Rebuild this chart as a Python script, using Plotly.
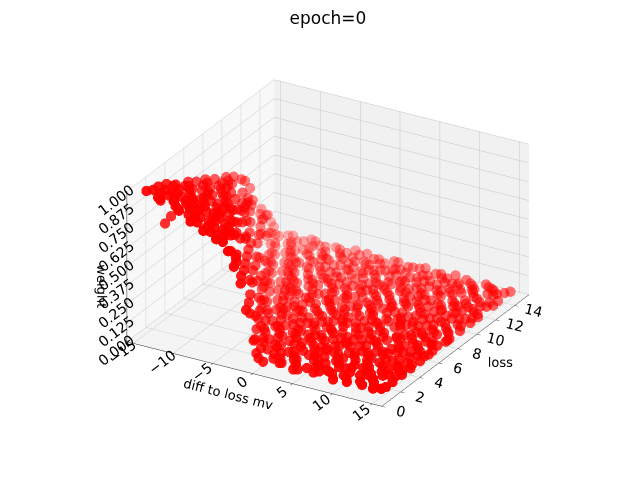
import plotly.graph_objects as go

# ---- values ----------------------------------------------------------
# weight ~ 0: the flat sheet lying on the floor of the box
diff_flat = [
    -1.1, 0.2, 1.4, 2.3, 3.6, 4.4, 5.8, 6.9, 7.7, 9.0, 10.1, 11.2, 12.4, 13.3, 14.7,
    -2.6, -1.5, -0.3, 0.8, 2.0, 3.1, 4.3, 5.2, 6.5, 7.6, 8.8, 9.7, 11.0, 12.1, 13.2, 14.5,
    -3.7, -2.5, -1.4, -0.2, 0.9, 2.1, 3.0, 4.2, 5.4, 6.3, 7.5, 8.7, 9.8, 10.9, 12.0, 13.1, 14.4,
    -4.8, -3.6, -2.3, -1.2, 0.0, 1.1, 2.2, 3.4, 4.5, 5.6, 6.6, 7.8, 8.9, 10.0, 11.1, 12.3, 13.4, 14.6,
    -5.7, -4.5, -3.4, -2.2, -1.1, 0.1, 1.2, 2.4, 3.3, 4.6, 5.7, 6.8, 7.9, 9.0, 10.2, 11.3, 12.4, 13.5, 14.7,
    -6.8, -5.6, -4.4, -3.3, -2.1, -1.0, 0.2, 1.3, 2.5, 3.6, 4.7, 5.9, 7.0, 8.1, 9.2, 10.4, 11.5, 12.6, 13.7, 14.8,
    -7.8, -6.7, -5.5, -4.4, -3.2, -2.1, -1.0, 0.1, 1.3, 2.4, 3.5, 4.7, 5.8, 6.9, 8.0, 9.1, 10.3, 11.4, 12.5, 13.6, 14.8,
    -8.9, -7.7, -6.6, -5.5, -4.3, -3.2, -2.0, -0.9, 0.2, 1.4, 2.5, 3.6, 4.8, 5.9, 7.0, 8.1, 9.3, 10.4, 11.5, 12.6, 13.8, 14.9,
    -9.8, -8.7, -7.5, -6.4, -5.3, -4.1, -3.0, -1.9, -0.7, 0.4, 1.5, 2.7, 3.8, 4.9, 6.0, 7.2, 8.3, 9.4, 10.5, 11.7, 12.8, 13.9, 14.9,
    -10.9, -9.8, -8.6, -7.5, -6.4, -5.2, -4.1, -3.0, -1.8, -0.7, 0.4, 1.6, 2.7, 3.8, 5.0, 6.1, 7.2, 8.3, 9.5, 10.6, 11.7, 12.8, 13.9, 14.9,
    -11.8, -10.7, -9.6, -8.5, -7.4, -6.2, -5.1, -4.0, -2.9, -1.8, -0.6, 0.5, 1.6, 2.7, 3.9, 5.0, 6.1, 7.2, 8.4, 9.5, 10.6, 11.7, 12.8, 13.9, 14.9,
    -12.9, -11.8, -10.7, -9.6, -8.5, -7.4, -6.3, -5.1, -4.0, -2.9, -1.8, -0.7, 0.4, 1.5, 2.7, 3.8, 4.9, 6.0, 7.1, 8.3, 9.4, 10.5, 11.6, 12.7, 13.8, 14.9,
    -13.9, -12.8, -11.7, -10.6, -9.5, -8.4, -7.3, -6.2, -5.1, -4.0, -2.9, -1.8, -0.7, 0.4, 1.5, 2.6, 3.7, 4.8, 5.9, 7.0, 8.1, 9.2, 10.3, 11.4, 12.5, 13.6, 14.8,
    -14.8, -13.7, -12.6, -11.5, -10.4, -9.3, -8.2, -7.1, -6.0, -4.9, -3.8, -2.7, -1.6, -0.5, 0.6, 1.7, 2.8, 3.9, 5.0, 6.1, 7.2, 8.3, 9.4, 10.5, 11.6, 12.7, 13.8, 14.8,
]
loss_flat = [
    1.3, 0.9, 1.7, 1.1, 1.5, 1.0, 1.8, 1.2, 1.6, 0.9, 1.4, 1.9, 1.1, 1.6, 1.2,
    2.4, 2.1, 2.8, 2.3, 2.6, 2.0, 2.9, 2.5, 2.2, 2.7, 2.4, 2.1, 2.8, 2.3, 2.6, 2.9,
    3.5, 3.2, 3.8, 3.1, 3.6, 3.3, 3.9, 3.4, 3.0, 3.7, 3.2, 3.5, 3.8, 3.1, 3.6, 3.3, 3.7,
    4.6, 4.2, 4.8, 4.1, 4.5, 4.9, 4.3, 4.7, 4.0, 4.4, 4.8, 4.2, 4.6, 4.1, 4.9, 4.4, 4.0, 4.5,
    5.5, 5.1, 5.8, 5.3, 5.9, 5.0, 5.6, 5.2, 5.7, 5.4, 5.0, 5.8, 5.3, 5.6, 5.1, 5.9, 5.4, 5.2, 5.7,
    6.6, 6.2, 6.9, 6.4, 6.0, 6.7, 6.3, 6.8, 6.1, 6.5, 6.9, 6.2, 6.6, 6.0, 6.4, 6.8, 6.3, 6.7, 6.1, 6.5,
    7.5, 7.1, 7.8, 7.3, 7.9, 7.0, 7.6, 7.2, 7.7, 7.4, 7.0, 7.8, 7.3, 7.6, 7.1, 7.9, 7.4, 7.2, 7.7, 7.5, 7.0,
    8.7, 8.2, 8.9, 8.4, 8.0, 8.6, 8.3, 8.8, 8.1, 8.5, 8.9, 8.2, 8.6, 8.0, 8.4, 8.8, 8.3, 8.7, 8.1, 8.5, 8.9, 8.2,
    9.6, 9.1, 9.8, 9.3, 9.0, 9.7, 9.4, 9.9, 9.2, 9.5, 9.0, 9.8, 9.3, 9.6, 9.1, 9.7, 9.4, 9.0, 9.8, 9.2, 9.5, 9.9, 9.3,
    10.7, 10.2, 10.9, 10.4, 10.0, 10.6, 10.3, 10.8, 10.1, 10.5, 10.9, 10.2, 10.7, 10.0, 10.4, 10.8, 10.3, 10.6, 10.1, 10.9, 10.5, 10.2, 10.7, 10.4,
    11.6, 11.1, 11.8, 11.3, 11.9, 11.0, 11.5, 11.2, 11.7, 11.4, 11.0, 11.8, 11.3, 11.6, 11.1, 11.9, 11.4, 11.2, 11.7, 11.5, 11.0, 11.8, 11.3, 11.6, 11.2,
    12.7, 12.2, 12.9, 12.4, 12.0, 12.6, 12.3, 12.8, 12.1, 12.5, 12.9, 12.2, 12.6, 12.0, 12.4, 12.8, 12.3, 12.7, 12.1, 12.5, 12.9, 12.2, 12.6, 12.0, 12.4, 12.8,
    13.6, 13.1, 13.8, 13.3, 13.9, 13.0, 13.5, 13.2, 13.7, 13.4, 13.0, 13.8, 13.3, 13.6, 13.1, 13.9, 13.4, 13.2, 13.7, 13.5, 13.0, 13.8, 13.3, 13.6, 13.1, 13.9, 13.4,
    14.6, 14.2, 14.8, 14.3, 14.9, 14.1, 14.5, 14.7, 14.2, 14.9, 14.4, 14.0, 14.6, 14.3, 14.8, 14.1, 14.5, 14.9, 14.2, 14.7, 14.4, 14.0, 14.6, 14.3, 14.8, 14.5, 14.1, 14.7,
]
weight_flat = [
    0.06, 0.04, 0.04, 0.05, 0.04, 0.04, 0.04, 0.05, 0.04, 0.04, 0.04, 0.05, 0.04, 0.04, 0.04,
    0.08, 0.05, 0.04, 0.04, 0.05, 0.04, 0.04, 0.04, 0.05, 0.04, 0.04, 0.04, 0.04, 0.05, 0.04, 0.04,
    0.08, 0.05, 0.04, 0.04, 0.04, 0.05, 0.04, 0.04, 0.04, 0.04, 0.05, 0.04, 0.04, 0.04, 0.04, 0.05, 0.04,
    0.08, 0.05, 0.04, 0.04, 0.05, 0.04, 0.04, 0.04, 0.04, 0.05, 0.04, 0.04, 0.04, 0.04, 0.05, 0.04, 0.04, 0.04,
    0.08, 0.05, 0.04, 0.04, 0.04, 0.05, 0.04, 0.04, 0.04, 0.04, 0.05, 0.04, 0.04, 0.04, 0.04, 0.04, 0.05, 0.04, 0.04,
    0.08, 0.05, 0.04, 0.04, 0.05, 0.04, 0.04, 0.04, 0.04, 0.05, 0.04, 0.04, 0.04, 0.04, 0.04, 0.05, 0.04, 0.04, 0.04, 0.04,
    0.10, 0.05, 0.04, 0.04, 0.04, 0.05, 0.04, 0.04, 0.04, 0.04, 0.05, 0.04, 0.04, 0.04, 0.04, 0.05, 0.04, 0.04, 0.04, 0.04, 0.05,
    0.08, 0.05, 0.04, 0.04, 0.04, 0.05, 0.04, 0.04, 0.04, 0.04, 0.05, 0.04, 0.04, 0.04, 0.04, 0.04, 0.05, 0.04, 0.04, 0.04, 0.04, 0.04,
    0.08, 0.05, 0.04, 0.04, 0.05, 0.04, 0.04, 0.04, 0.04, 0.05, 0.04, 0.04, 0.04, 0.04, 0.05, 0.04, 0.04, 0.04, 0.04, 0.04, 0.05, 0.04, 0.04,
    0.08, 0.05, 0.04, 0.04, 0.04, 0.05, 0.04, 0.04, 0.04, 0.04, 0.05, 0.04, 0.04, 0.04, 0.04, 0.04, 0.05, 0.04, 0.04, 0.04, 0.04, 0.05, 0.04, 0.04,
    0.08, 0.05, 0.04, 0.04, 0.04, 0.05, 0.04, 0.04, 0.04, 0.04, 0.05, 0.04, 0.04, 0.04, 0.04, 0.04, 0.05, 0.04, 0.04, 0.04, 0.04, 0.04, 0.05, 0.04, 0.04,
    0.08, 0.05, 0.04, 0.04, 0.05, 0.04, 0.04, 0.04, 0.04, 0.05, 0.04, 0.04, 0.04, 0.04, 0.04, 0.05, 0.04, 0.04, 0.04, 0.04, 0.05, 0.04, 0.04, 0.04, 0.04, 0.04,
    0.10, 0.05, 0.04, 0.04, 0.04, 0.05, 0.04, 0.04, 0.04, 0.04, 0.05, 0.04, 0.04, 0.04, 0.04, 0.04, 0.05, 0.04, 0.04, 0.04, 0.04, 0.05, 0.04, 0.04, 0.04, 0.04, 0.04,
    0.08, 0.05, 0.04, 0.04, 0.04, 0.05, 0.04, 0.04, 0.04, 0.04, 0.05, 0.04, 0.04, 0.04, 0.04, 0.04, 0.05, 0.04, 0.04, 0.04, 0.04, 0.04, 0.05, 0.04, 0.04, 0.04, 0.04, 0.04,
]
# second pass over the same sheet, filling the gaps between the first
diff_flat2 = [
    -0.5, 0.8, 1.9, 3.0, 4.0, 5.1, 6.3, 7.3, 8.4, 9.5, 10.6, 11.8, 12.9, 13.9, 14.9,
    -2.0, -0.9, 0.3, 1.4, 2.6, 3.7, 4.8, 5.9, 7.0, 8.2, 9.3, 10.4, 11.6, 12.7, 13.8, 14.9,
    -3.1, -2.0, -0.8, 0.3, 1.5, 2.6, 3.6, 4.8, 5.9, 6.9, 8.1, 9.2, 10.3, 11.5, 12.6, 13.7, 14.9,
    -4.2, -3.0, -1.8, -0.6, 0.6, 1.7, 2.8, 3.9, 5.0, 6.1, 7.2, 8.3, 9.5, 10.6, 11.7, 12.8, 13.9, 14.9,
    -5.1, -4.0, -2.8, -1.6, -0.5, 0.7, 1.8, 2.9, 4.0, 5.1, 6.2, 7.4, 8.5, 9.6, 10.7, 11.8, 12.9, 14.0, 14.9,
    -6.2, -5.0, -3.9, -2.7, -1.6, -0.4, 0.8, 1.9, 3.0, 4.1, 5.3, 6.4, 7.5, 8.6, 9.8, 10.9, 12.0, 13.1, 14.2, 14.9,
    -7.2, -6.1, -4.9, -3.8, -2.6, -1.5, -0.4, 0.7, 1.8, 2.9, 4.1, 5.2, 6.3, 7.4, 8.5, 9.7, 10.8, 11.9, 13.0, 14.1, 14.9,
    -8.3, -7.1, -6.0, -4.9, -3.7, -2.6, -1.4, -0.3, 0.8, 1.9, 3.1, 4.2, 5.3, 6.5, 7.6, 8.7, 9.8, 11.0, 12.1, 13.2, 14.3, 14.9,
    -9.2, -8.1, -6.9, -5.8, -4.7, -3.5, -2.4, -1.3, -0.1, 1.0, 2.1, 3.2, 4.4, 5.5, 6.6, 7.7, 8.9, 10.0, 11.1, 12.2, 13.3, 14.4,
    -10.3, -9.2, -8.0, -6.9, -5.8, -4.6, -3.5, -2.4, -1.2, -0.1, 1.0, 2.2, 3.3, 4.4, 5.5, 6.7, 7.8, 8.9, 10.1, 11.2, 12.3, 13.4, 14.5,
    -11.2, -10.1, -9.0, -7.9, -6.8, -5.7, -4.5, -3.4, -2.3, -1.2, 0.0, 1.1, 2.2, 3.3, 4.5, 5.6, 6.7, 7.8, 8.9, 10.1, 11.2, 12.3, 13.4, 14.5,
    -12.3, -11.2, -10.1, -9.0, -7.9, -6.8, -5.7, -4.6, -3.4, -2.3, -1.2, -0.1, 1.0, 2.1, 3.2, 4.3, 5.5, 6.6, 7.7, 8.8, 9.9, 11.0, 12.1, 13.2, 14.4,
    -13.2, -12.1, -11.0, -9.9, -8.8, -7.7, -6.6, -5.6, -4.5, -3.4, -2.3, -1.2, -0.1, 1.0, 2.1, 3.2, 4.3, 5.4, 6.5, 7.6, 8.7, 9.8, 10.9, 12.0, 13.1, 14.2,
    -14.2, -13.1, -12.0, -10.9, -9.8, -8.7, -7.6, -6.5, -5.4, -4.3, -3.2, -2.1, -1.0, 0.1, 1.2, 2.3, 3.4, 4.5, 5.6, 6.7, 7.8, 8.9, 10.0, 11.1, 12.2, 13.3, 14.4,
]
loss_flat2 = [
    1.0, 1.5, 1.2, 1.8, 0.9, 1.4, 1.1, 1.7, 1.3, 1.6, 1.0, 1.4, 1.8, 1.0, 1.5,
    2.8, 2.3, 2.0, 2.6, 2.2, 2.8, 2.4, 2.0, 2.9, 2.2, 2.6, 2.9, 2.3, 2.0, 2.7, 2.2,
    3.9, 3.4, 3.0, 3.6, 3.9, 3.1, 3.5, 3.8, 3.6, 3.2, 3.9, 3.0, 3.4, 3.7, 3.0, 3.8, 3.2,
    4.4, 4.9, 4.3, 4.7, 4.1, 4.6, 4.9, 4.0, 4.5, 4.8, 4.1, 4.6, 4.3, 4.8, 4.2, 4.7, 4.6, 4.1,
    5.9, 5.4, 5.0, 5.6, 5.2, 5.8, 5.0, 5.9, 5.1, 5.7, 5.4, 5.1, 5.9, 5.0, 5.6, 5.3, 5.8, 5.6, 5.1,
    6.1, 6.7, 6.3, 6.9, 6.5, 6.1, 6.6, 6.2, 6.9, 6.0, 6.4, 6.8, 6.1, 6.5, 6.9, 6.2, 6.8, 6.4, 6.9, 6.0,
    7.2, 7.7, 7.0, 7.5, 7.1, 7.8, 7.3, 7.9, 7.0, 7.6, 7.4, 7.0, 7.9, 7.2, 7.8, 7.0, 7.6, 7.9, 7.3, 7.0, 7.8,
    8.1, 8.6, 8.3, 8.9, 8.7, 8.2, 8.9, 8.4, 8.7, 8.0, 8.3, 8.8, 8.1, 8.6, 8.9, 8.2, 8.6, 8.0, 8.7, 8.3, 8.6, 8.0,
    9.2, 9.7, 9.4, 9.0, 9.8, 9.2, 9.6, 9.1, 9.7, 9.9, 9.3, 9.6, 9.0, 9.9, 9.4, 9.1, 9.7, 9.5, 9.0, 9.6, 9.2, 9.8,
    10.3, 10.8, 10.5, 10.1, 10.7, 10.2, 10.9, 10.4, 10.7, 10.0, 10.6, 10.9, 10.3, 10.7, 10.1, 10.5, 10.9, 10.2, 10.6, 10.0, 10.8, 10.5, 10.9,
    11.3, 11.8, 11.5, 11.0, 11.6, 11.9, 11.2, 11.7, 11.0, 11.8, 11.5, 11.1, 11.9, 11.4, 11.7, 11.2, 11.8, 11.6, 11.0, 11.3, 11.7, 11.1, 11.9, 11.5,
    12.3, 12.8, 12.5, 12.1, 12.7, 12.9, 12.4, 12.0, 12.7, 12.3, 12.6, 12.9, 12.1, 12.5, 12.8, 12.0, 12.6, 12.2, 12.9, 12.4, 12.7, 12.0, 12.3, 12.8, 12.5,
    13.4, 13.8, 13.2, 13.6, 13.1, 13.7, 13.3, 13.9, 13.0, 13.6, 13.8, 13.2, 13.5, 13.9, 13.3, 13.0, 13.7, 13.5, 13.1, 13.8, 13.4, 13.6, 13.9, 13.2, 13.7, 13.0,
    14.3, 14.7, 14.1, 14.5, 14.8, 14.3, 14.0, 14.6, 14.4, 14.1, 14.7, 14.5, 14.2, 14.8, 14.0, 14.4, 14.7, 14.1, 14.6, 14.3, 14.8, 14.2, 14.5, 14.0, 14.6, 14.2, 14.4,
]
weight_flat2 = [
    0.05, 0.04, 0.04, 0.05, 0.04, 0.04, 0.04, 0.04, 0.05, 0.04, 0.04, 0.04, 0.05, 0.04, 0.04,
    0.05, 0.04, 0.04, 0.04, 0.05, 0.04, 0.04, 0.04, 0.04, 0.05, 0.04, 0.04, 0.04, 0.04, 0.05, 0.04,
    0.05, 0.04, 0.04, 0.05, 0.04, 0.04, 0.04, 0.04, 0.05, 0.04, 0.04, 0.04, 0.04, 0.05, 0.04, 0.04, 0.04,
    0.05, 0.04, 0.04, 0.04, 0.05, 0.04, 0.04, 0.04, 0.04, 0.05, 0.04, 0.04, 0.04, 0.04, 0.05, 0.04, 0.04, 0.04,
    0.05, 0.04, 0.04, 0.04, 0.04, 0.05, 0.04, 0.04, 0.04, 0.04, 0.05, 0.04, 0.04, 0.04, 0.04, 0.05, 0.04, 0.04, 0.04,
    0.06, 0.04, 0.04, 0.05, 0.04, 0.04, 0.04, 0.04, 0.05, 0.04, 0.04, 0.04, 0.04, 0.05, 0.04, 0.04, 0.04, 0.04, 0.05, 0.04,
    0.05, 0.04, 0.04, 0.04, 0.05, 0.04, 0.04, 0.04, 0.04, 0.05, 0.04, 0.04, 0.04, 0.04, 0.05, 0.04, 0.04, 0.04, 0.04, 0.05, 0.04,
    0.08, 0.05, 0.04, 0.04, 0.04, 0.05, 0.04, 0.04, 0.04, 0.04, 0.05, 0.04, 0.04, 0.04, 0.04, 0.05, 0.04, 0.04, 0.04, 0.04, 0.05, 0.04,
    0.05, 0.04, 0.04, 0.04, 0.05, 0.04, 0.04, 0.04, 0.04, 0.05, 0.04, 0.04, 0.04, 0.04, 0.05, 0.04, 0.04, 0.04, 0.04, 0.05, 0.04, 0.04,
    0.05, 0.04, 0.04, 0.04, 0.04, 0.05, 0.04, 0.04, 0.04, 0.04, 0.05, 0.04, 0.04, 0.04, 0.04, 0.05, 0.04, 0.04, 0.04, 0.04, 0.05, 0.04, 0.04,
    0.05, 0.04, 0.04, 0.04, 0.05, 0.04, 0.04, 0.04, 0.04, 0.05, 0.04, 0.04, 0.04, 0.04, 0.05, 0.04, 0.04, 0.04, 0.04, 0.05, 0.04, 0.04, 0.04, 0.04,
    0.05, 0.04, 0.04, 0.04, 0.04, 0.05, 0.04, 0.04, 0.04, 0.04, 0.05, 0.04, 0.04, 0.04, 0.04, 0.05, 0.04, 0.04, 0.04, 0.04, 0.05, 0.04, 0.04, 0.04, 0.04,
    0.05, 0.04, 0.04, 0.04, 0.05, 0.04, 0.04, 0.04, 0.04, 0.05, 0.04, 0.04, 0.04, 0.04, 0.05, 0.04, 0.04, 0.04, 0.04, 0.05, 0.04, 0.04, 0.04, 0.04, 0.05, 0.04,
    0.05, 0.04, 0.04, 0.04, 0.04, 0.05, 0.04, 0.04, 0.04, 0.04, 0.05, 0.04, 0.04, 0.04, 0.04, 0.05, 0.04, 0.04, 0.04, 0.04, 0.05, 0.04, 0.04, 0.04, 0.04, 0.05, 0.04,
]

# high weight: low loss and strongly negative diff (the raised strip)
diff_high = [
    -14.8, -13.6, -12.7, -11.5, -10.6, -9.4, -8.5, -7.3, -6.4, -5.2, -4.3, -3.2,
    -14.3, -13.1, -12.1, -11.0, -10.0, -8.9, -7.8, -6.9, -5.8, -4.8, -3.7,
    -14.6, -13.5, -12.4, -11.4, -10.3, -9.2, -8.2, -7.1, -6.0, -5.0, -4.1,
    -14.1, -13.0, -11.9, -10.8, -9.7, -8.7, -7.6, -6.6, -5.5, -4.6,
    -14.9, -13.8, -12.7, -11.7, -10.6, -9.6, -8.5, -7.5, -6.4, -5.3,
    -14.4, -13.3, -12.2, -11.1, -10.1, -9.0, -8.0, -6.9,
    -14.7, -13.6, -12.5, -11.5, -10.4, -9.3, -8.3, -7.2, -6.2,
    -14.2, -13.1, -12.0, -10.9, -9.8, -8.8, -7.7,
    -14.8, -13.7, -12.6, -11.6, -10.5, -9.4, -8.4, -7.3,
    -14.3, -13.2, -12.1, -11.0, -9.9, -8.9, -7.9,
    -14.6, -13.5, -12.4, -11.3, -10.2, -9.1, -8.2,
    -14.1, -13.0, -11.9, -10.8, -9.7, -8.7,
    -14.8, -13.7, -12.5, -11.4, -10.3, -9.3,
    -14.2, -13.1, -12.0, -10.9, -9.9,
    -14.7, -13.6, -12.4, -11.3, -10.2,
    -14.1, -13.0, -11.9, -10.8,
    -14.8, -13.6, -12.5, -11.4,
    -14.2, -13.0, -11.9,
    -14.7, -13.5, -12.4,
    -14.2, -13.0,
    -14.6, -13.4, -14.1, -14.9, -14.1, -14.8,
    -14.7, -14.2, -14.6,
]
loss_high = [
    1.2, 1.7, 0.9, 1.5, 1.1, 1.8, 1.3, 0.9, 1.6, 1.2, 1.0, 1.4,
    1.5, 1.0, 1.8, 1.3, 1.6, 0.9, 1.7, 1.3, 1.0, 1.7, 1.1,
    2.3, 2.8, 2.1, 2.6, 2.9, 2.2, 2.5, 2.8, 2.0, 2.4, 2.2,
    2.6, 2.1, 2.9, 2.4, 2.0, 2.7, 2.3, 2.6, 2.9, 2.1,
    3.4, 3.8, 3.1, 3.6, 3.3, 3.9, 3.2, 3.7, 3.0, 3.5,
    3.7, 3.2, 3.9, 3.0, 3.6, 3.4, 3.8, 3.3,
    4.2, 4.7, 4.0, 4.5, 4.9, 4.3, 4.6, 4.1, 4.4,
    4.8, 4.3, 4.6, 4.1, 4.5, 4.0, 4.7,
    5.6, 5.1, 5.8, 5.3, 5.9, 5.4, 5.0, 5.5,
    5.2, 5.7, 5.0, 5.5, 5.1, 5.8, 5.3,
    6.3, 6.8, 6.1, 6.6, 6.2, 6.9, 6.4,
    6.6, 6.2, 6.9, 6.4, 6.0, 6.5,
    7.4, 7.9, 7.2, 7.7, 7.0, 7.6,
    7.1, 7.6, 7.3, 7.9, 7.2,
    8.3, 8.8, 8.1, 8.6, 8.2,
    8.6, 8.1, 8.9, 8.4,
    9.6, 9.2, 9.8, 9.3,
    9.3, 9.8, 9.1,
    10.3, 10.8, 10.1,
    10.7, 10.4,
    11.4, 11.1, 11.8, 12.2, 12.6, 13.3,
    2.6, 3.3, 3.0,
]
weight_high = [
    0.96, 0.94, 0.95, 0.89, 0.89, 0.83, 0.83, 0.81, 0.76, 0.75, 0.71, 0.49,
    0.96, 0.95, 0.90, 0.89, 0.85, 0.85, 0.79, 0.79, 0.77, 0.67, 0.61,
    0.94, 0.89, 0.89, 0.85, 0.81, 0.81, 0.77, 0.73, 0.74, 0.59, 0.49,
    0.91, 0.91, 0.85, 0.84, 0.83, 0.77, 0.76, 0.73, 0.58, 0.58,
    0.90, 0.86, 0.86, 0.81, 0.80, 0.75, 0.75, 0.70, 0.69, 0.45,
    0.88, 0.87, 0.81, 0.82, 0.77, 0.75, 0.71, 0.70,
    0.86, 0.82, 0.82, 0.77, 0.73, 0.73, 0.69, 0.63, 0.44,
    0.83, 0.82, 0.78, 0.77, 0.73, 0.73, 0.61,
    0.81, 0.80, 0.75, 0.74, 0.69, 0.68, 0.66, 0.42,
    0.81, 0.77, 0.77, 0.72, 0.71, 0.61, 0.54,
    0.78, 0.73, 0.73, 0.68, 0.67, 0.46, 0.41,
    0.75, 0.74, 0.69, 0.68, 0.67, 0.47,
    0.74, 0.69, 0.69, 0.64, 0.62, 0.38,
    0.74, 0.69, 0.67, 0.56, 0.53,
    0.70, 0.65, 0.65, 0.51, 0.41,
    0.67, 0.67, 0.55, 0.47,
    0.65, 0.64, 0.49, 0.41,
    0.65, 0.56, 0.51,
    0.62, 0.47, 0.43,
    0.59, 0.47,
    0.54, 0.41, 0.40, 0.45, 0.27, 0.26,
    0.83, 0.70, 0.66,
]

# the steep drop between the strip and the floor
diff_edge = [-2.4, -1.8, -3.6, -3.1, -4.5, -4.3, -5.8, -5.4, -6.7, -6.3, -7.8, -7.2, -8.6, -8.4,
             -9.8, -9.3, -10.7, -10.3, -11.8, -11.4, -12.7, -12.5, -13.6, -13.4, -14.6, -14.3, -14.9]
loss_edge = [1.3, 1.6, 2.6, 2.3, 3.5, 3.9, 4.8, 4.2, 5.6, 5.9, 6.8, 6.5, 7.6, 7.9,
             8.7, 8.5, 9.6, 9.9, 10.7, 10.4, 11.6, 11.9, 12.5, 12.9, 13.8, 13.4, 14.4]
weight_edge = [0.33, 0.12, 0.30, 0.25, 0.30, 0.14, 0.30, 0.35, 0.33, 0.14, 0.29, 0.21, 0.30, 0.16,
               0.32, 0.24, 0.32, 0.14, 0.31, 0.28, 0.30, 0.18, 0.25, 0.14, 0.20, 0.22, 0.12]

x_ticks = [-15, -10, -5, 0, 5, 10, 15]
y_ticks = [0, 2, 4, 6, 8, 10, 12, 14]
z_ticks = [0, 0.125, 0.25, 0.375, 0.5, 0.625, 0.75, 0.875, 1.0]

for a, b, c in [(diff_flat, loss_flat, weight_flat), (diff_flat2, loss_flat2, weight_flat2),
                (diff_high, loss_high, weight_high), (diff_edge, loss_edge, weight_edge)]:
    assert len(a) == len(b) == len(c), (len(a), len(b), len(c))

diff = diff_flat + diff_flat2 + diff_high + diff_edge
loss = loss_flat + loss_flat2 + loss_high + loss_edge
weight = weight_flat + weight_flat2 + weight_high + weight_edge

x_rng = [-15.8, 16.2]
y_rng = [0, 15.5]
z_rng = [0, 1]


# fade the far points like matplotlib's depthshade
def unit(v, r):
    return (v - r[0]) / (r[1] - r[0]) - 0.5


near = [0.449 * unit(a, x_rng) - 0.778 * unit(b, y_rng) + 0.33 * unit(c, z_rng)
        for a, b, c in zip(diff, loss, weight)]
lo, hi = min(near), max(near)
colors = ['rgba(255,0,0,%.2f)' % (0.3 + 0.7 * (n - lo) / (hi - lo)) for n in near]

fig = go.Figure(go.Scatter3d(
    x=diff, y=loss, z=weight,
    mode='markers',
    marker=dict(size=6, color=colors, line=dict(width=0)),
    hoverinfo='skip',
))

axis_style = dict(
    showbackground=True,
    gridcolor='#c4c4c4',
    gridwidth=1,
    zeroline=False,
    showline=True,
    linecolor='#222222',
    linewidth=1,
    ticks='outside',
    ticklen=4,
    tickcolor='#222222',
    tickfont=dict(size=13, color='black'),
    showspikes=False,
)

fig.update_layout(
    width=640,
    height=480,
    font=dict(family='DejaVu Sans', color='black'),
    title=dict(text='epoch=0', x=0.5, xanchor='center', y=0.98, yanchor='middle',
               font=dict(size=17)),
    margin=dict(l=0, r=0, t=0, b=0),
    paper_bgcolor='white',
    showlegend=False,
    scene=dict(
        domain=dict(x=[0, 1], y=[0.045, 0.975]),
        xaxis=dict(axis_style, range=x_rng, tickvals=x_ticks,
                   ticktext=[str(t).replace('-', '\u2212') for t in x_ticks],
                   backgroundcolor='#f8f8f8',
                   title=dict(text='diff to loss mv', font=dict(size=13))),
        yaxis=dict(axis_style, range=y_rng, tickvals=y_ticks,
                   backgroundcolor='#f1f1f1',
                   title=dict(text='loss', font=dict(size=13))),
        zaxis=dict(axis_style, range=z_rng, tickvals=z_ticks, tickformat='.3f',
                   backgroundcolor='#f4f4f4',
                   title=dict(text='weight', font=dict(size=13))),
        aspectmode='manual',
        aspectratio=dict(x=1.32, y=1.32, z=0.75),
        camera=dict(eye=dict(x=0.713, y=-1.234, z=0.695), up=dict(x=0, y=0, z=1),
                    center=dict(x=0, y=0, z=0),
                    projection=dict(type='orthographic')),
    ),
)

fig.write_html("out.html")
